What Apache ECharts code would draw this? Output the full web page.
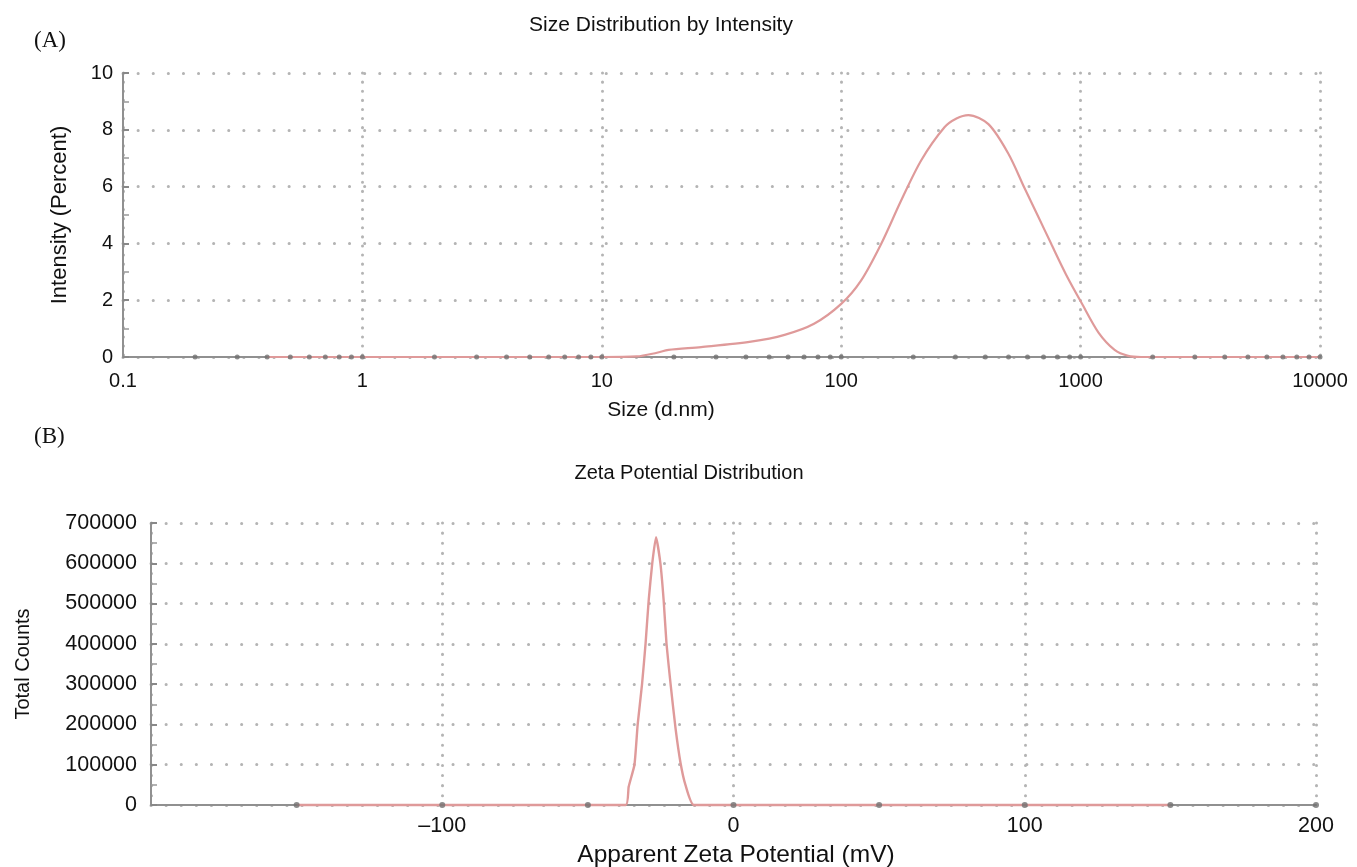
<!DOCTYPE html>
<html>
<head>
<meta charset="utf-8">
<script src="https://cdn.jsdelivr.net/npm/echarts@6/dist/echarts.min.js"></script>
<style>
  html, body { margin: 0; padding: 0; background: #fff; }
  #main { width: 1357px; height: 867px; }
</style>
</head>
<body>
<div id="main"></div>
<script>
// (A) size distribution
const sizeNm = [0.4, 1, 10, 14, 17, 19, 26, 42, 58, 77, 100, 121, 147, 178, 216, 270, 303, 340, 412, 500, 583, 665, 757, 870, 1010, 1190, 1387, 1580, 1790, 10000]
const intensity = [0, 0, 0, 0.02, 0.15, 0.25, 0.35, 0.54, 0.78, 1.17, 1.87, 2.69, 3.99, 5.51, 6.93, 8.09, 8.4, 8.52, 8.2, 7.15, 5.95, 4.95, 3.95, 2.9, 1.9, 0.85, 0.25, 0.04, 0, 0]

// (B) zeta potential distribution
const zetaMv = [-150, -37, -36, -34, -32.9, -31.4, -30.2, -29.1, -27.9, -26.6, -25.1, -24.0, -23.0, -21.6, -19.9, -18.2, -16.5, -13.6, 150]
const counts = [0, 0, 45000, 100000, 200000, 300000, 400000, 510000, 600000, 665000, 600000, 510000, 400000, 300000, 190000, 105000, 50000, 0, 0]

// tick marks shown as dots on the x axes
const sizeDots = [0.2, 0.3, 0.4, 0.5, 0.6, 0.7, 0.8, 0.9, 1, 2, 3, 4, 5, 6, 7, 8, 9, 10, 20, 30, 40, 50, 60, 70, 80, 90, 100,
  200, 300, 400, 500, 600, 700, 800, 900, 1000, 2000, 3000, 4000, 5000, 6000, 7000, 8000, 9000, 10000]
const zetaDots = [-150, -100, -50, 0, 50, 100, 150, 200]

const font = '"Liberation Sans", Arial, sans-serif'
const lineColor = '#df9a9a'

const chart = echarts.init(document.getElementById('main'))

function dotted (gap, color) {
  return { color: color || '#b4b4b4', width: 3, type: [0.1, gap], cap: 'round' }
}

function label (size, extra) {
  return Object.assign({ color: '#111', fontFamily: font, fontSize: size }, extra)
}

const axisLine = { show: true, onZero: false, lineStyle: { color: '#909090', width: 2 } }
const yTick = { show: true, inside: true, length: 6, lineStyle: { color: '#888', width: 2 } }
const yMinor = { show: true, splitNumber: 2, length: 6, lineStyle: { color: '#999', width: 1.5 } }

chart.setOption({
  animation: false,
  backgroundColor: '#fff',
  graphic: [
    { type: 'text', left: 34, top: 29, style: { text: '(A)', font: '23px "Liberation Serif", serif', fill: '#111' } },
    { type: 'text', left: 34, top: 425, style: { text: '(B)', font: '23px "Liberation Serif", serif', fill: '#111' } },
    { type: 'text', x: 661, y: 25, style: { text: 'Size Distribution by Intensity', font: '21px ' + font, fill: '#111', textAlign: 'center', textVerticalAlign: 'middle' } },
    { type: 'text', x: 689, y: 473, style: { text: 'Zeta Potential Distribution', font: '20px ' + font, fill: '#111', textAlign: 'center', textVerticalAlign: 'middle' } },
    { type: 'text', x: 661, y: 410, style: { text: 'Size (d.nm)', font: '21px ' + font, fill: '#111', textAlign: 'center', textVerticalAlign: 'middle' } },
    { type: 'text', x: 736, y: 855, style: { text: 'Apparent Zeta Potential (mV)', font: '24.5px ' + font, fill: '#111', textAlign: 'center', textVerticalAlign: 'middle' } }
  ],
  grid: [
    { left: 123, top: 73, width: 1197, height: 284 },
    { left: 151, top: 523, width: 1165, height: 282 }
  ],
  xAxis: [
    {
      gridIndex: 0, type: 'log', logBase: 10, min: 0.1, max: 10000,
      axisLine: axisLine, axisTick: { show: false },
      axisLabel: label(20, { margin: 14, formatter: v => String(+Number(v).toPrecision(6)) }),
      splitLine: { show: true, lineStyle: dotted(9) }
    },
    {
      gridIndex: 1, type: 'value', min: -200, max: 200, interval: 100,
      axisLine: axisLine, axisTick: { show: false },
      axisLabel: label(21.5, {
        margin: 10, showMinLabel: false,
        formatter: v => (v < 0 ? '\u2013' + Math.abs(v) : String(v))
      }),
      splitLine: { show: true, lineStyle: dotted(10) }
    }
  ],
  yAxis: [
    {
      gridIndex: 0, type: 'value', min: 0, max: 10, interval: 2,
      name: 'Intensity (Percent)', nameLocation: 'middle', nameGap: 52, nameTextStyle: label(22),
      axisLine: axisLine, axisTick: yTick, minorTick: yMinor,
      axisLabel: label(20, { margin: 10 }),
      splitLine: { show: true, lineStyle: dotted(15) }
    },
    {
      gridIndex: 1, type: 'value', min: 0, max: 700000, interval: 100000,
      name: 'Total Counts', nameLocation: 'middle', nameGap: 118, nameTextStyle: label(20),
      axisLine: axisLine, axisTick: yTick, minorTick: yMinor,
      axisLabel: label(21.5, { margin: 14, formatter: v => String(v) }),
      splitLine: { show: true, lineStyle: dotted(15) }
    }
  ],
  series: [
    {
      type: 'line', xAxisIndex: 0, yAxisIndex: 0, smooth: 0.3, symbol: 'none', clip: false,
      lineStyle: { color: lineColor, width: 2.2 },
      data: sizeNm.map((x, i) => [x, intensity[i]])
    },
    {
      type: 'line', xAxisIndex: 1, yAxisIndex: 1, smooth: 0.15, symbol: 'none', clip: false,
      lineStyle: { color: lineColor, width: 2.4 },
      data: zetaMv.map((x, i) => [x, counts[i]])
    },
    {
      type: 'scatter', xAxisIndex: 0, yAxisIndex: 0, symbolSize: 5, z: 5, silent: true, clip: false,
      itemStyle: { color: '#707070' },
      data: sizeDots.map(x => [x, 0])
    },
    {
      type: 'scatter', xAxisIndex: 1, yAxisIndex: 1, symbolSize: 6, z: 5, silent: true, clip: false,
      itemStyle: { color: '#707070' },
      data: zetaDots.map(x => [x, 0])
    }
  ]
})
</script>
</body>
</html>
